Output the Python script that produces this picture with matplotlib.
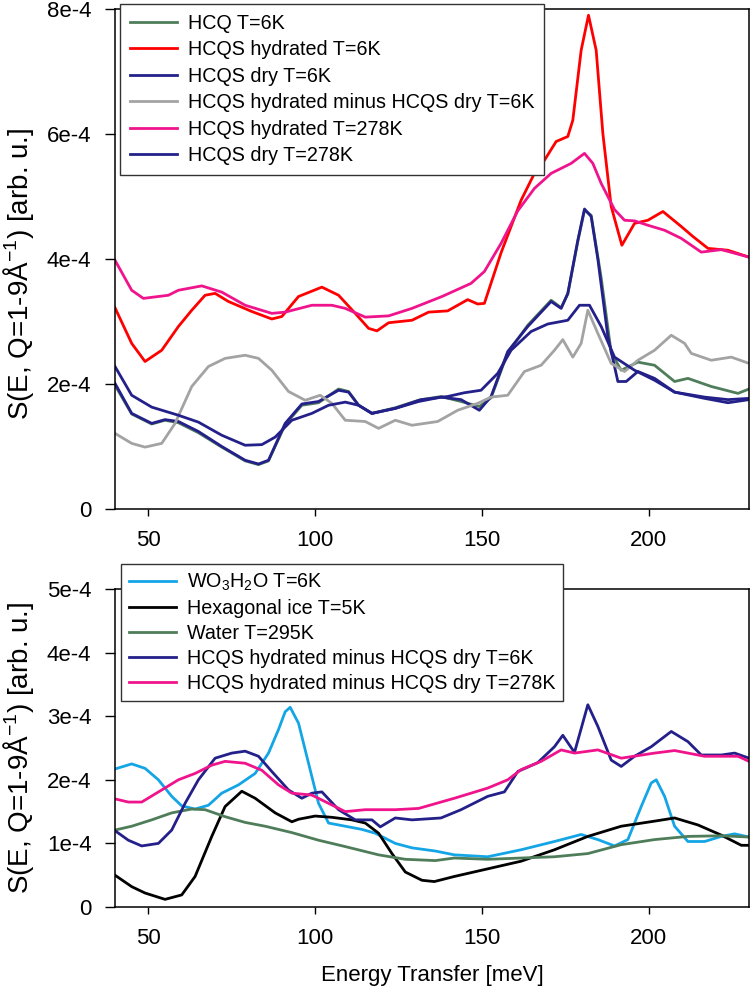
import matplotlib
matplotlib.use("Agg")
import matplotlib.pyplot as plt
import numpy as np

plt.rcParams['font.family'] = ['Liberation Sans', 'DejaVu Sans']
plt.rcParams['mathtext.fontset'] = 'custom'
plt.rcParams['mathtext.rm'] = 'Liberation Sans'
plt.rcParams['mathtext.it'] = 'Liberation Sans:italic'

# values are in units of 1e-4 arb. u.
SCALE = 1e-4

# ---------------- top panel ----------------
hcq_e = [40, 45, 51, 55, 59, 65, 72, 79, 83, 86, 91, 96, 101, 107, 110, 113, 117, 124, 131, 137.7,
         143.7, 149.2, 152.7, 157.7, 163.7, 170.7, 173.7, 175.7, 178.7, 180.7, 182.7, 185.7, 188.7,
         191.7, 196.7, 201.7, 207.7, 211.7, 218.7, 226.7, 230]
hcq_s = [1.98, 1.52, 1.36, 1.42, 1.38, 1.22, 0.99, 0.77, 0.71, 0.77, 1.35, 1.66, 1.70, 1.92, 1.88, 1.66,
         1.53, 1.62, 1.74, 1.80, 1.72, 1.64, 1.78, 2.50, 2.94, 3.34, 3.22, 3.44, 4.28, 4.78, 4.70, 3.70,
         2.50, 2.22, 2.35, 2.30, 2.04, 2.09, 1.96, 1.85, 1.92]

hyd6_e = [40, 45, 49, 54, 59, 63, 67, 70, 74, 81, 87, 90, 95, 102, 107, 112, 116, 118.5, 122, 129,
          134, 139.7, 145.7, 148.7, 150.7, 155.7, 161.7, 165.7, 168.7, 172.2, 175.7, 177.2, 179.7,
          181.9, 184.2, 186.2, 188.7, 191.9, 195.7, 199.7, 204.2, 209.7, 213.2, 217.7, 223.7, 230]
hyd6_s = [3.22, 2.65, 2.36, 2.54, 2.92, 3.18, 3.42, 3.45, 3.32, 3.16, 3.04, 3.08, 3.40, 3.55, 3.42,
          3.13, 2.89, 2.85, 2.98, 3.02, 3.15, 3.17, 3.35, 3.28, 3.29, 4.10, 4.94, 5.37, 5.58, 5.88,
          5.96, 6.22, 7.34, 7.90, 7.34, 6.01, 4.84, 4.22, 4.57, 4.62, 4.76, 4.52, 4.36, 4.17, 4.14, 4.03]

dry6_e = [40, 45, 51, 55, 59, 65, 72, 79, 83, 86, 91, 96, 101, 107, 110, 113, 117, 124, 131, 137.7,
          143.7, 149.2, 152.7, 157.7, 163.7, 170.7, 173.7, 175.7, 178.7, 180.7, 182.7, 184.7, 187.7,
          190.7, 193.2, 196.7, 201.7, 207.7, 216.7, 223.7, 230]
dry6_s = [2.01, 1.53, 1.37, 1.43, 1.40, 1.24, 1.00, 0.78, 0.72, 0.78, 1.37, 1.68, 1.72, 1.90, 1.87,
          1.66, 1.53, 1.61, 1.72, 1.79, 1.75, 1.58, 1.80, 2.52, 2.92, 3.32, 3.21, 3.45, 4.30, 4.80,
          4.68, 4.00, 2.76, 2.04, 2.04, 2.20, 2.09, 1.87, 1.77, 1.70, 1.75]

diff6_e = [40, 45, 49, 54, 58, 63, 68, 73, 79, 83, 87, 92, 97, 101.5, 105, 109, 115, 119, 124, 129,
           136.7, 142.7, 148.7, 152.7, 157.7, 162.7, 167.7, 171.7, 174.2, 177.2, 179.7, 181.7, 184.7,
           188.7, 192.7, 196.7, 201.7, 206.7, 210.7, 212.7, 218.7, 224.7, 230]
diff6_s = [1.21, 1.05, 0.99, 1.05, 1.37, 1.96, 2.28, 2.41, 2.46, 2.41, 2.22, 1.88, 1.74, 1.82, 1.69,
           1.42, 1.40, 1.29, 1.42, 1.34, 1.40, 1.58, 1.69, 1.79, 1.82, 2.20, 2.30, 2.54, 2.71, 2.43,
           2.65, 3.18, 2.81, 2.33, 2.20, 2.38, 2.54, 2.78, 2.65, 2.49, 2.38, 2.43, 2.33]

hyd278_e = [40, 45, 48.5, 56, 59, 66, 72, 79, 87, 91, 99, 105, 109, 115, 122, 129, 138, 146.7, 150.7,
            155.7, 160.7, 165.7, 170.7, 176.7, 180.7, 183.2, 185.7, 189.7, 192.7, 195.7, 199.7, 204.7,
            209.7, 215.7, 221.7, 230]
hyd278_s = [3.98, 3.50, 3.37, 3.42, 3.50, 3.57, 3.47, 3.26, 3.13, 3.15, 3.26, 3.26, 3.21, 3.07, 3.09,
            3.21, 3.40, 3.61, 3.80, 4.25, 4.77, 5.13, 5.37, 5.53, 5.69, 5.53, 5.21, 4.79, 4.62, 4.61,
            4.54, 4.46, 4.33, 4.11, 4.15, 4.03]

dry278_e = [40, 45, 51, 59, 65, 72, 79, 84, 88, 93, 99, 104, 109, 113, 117, 124, 131.7, 139.7, 144.7,
            149.7, 154.7, 158.7, 164.7, 169.7, 175.7, 179.2, 182.2, 185.7, 189.7, 195.7, 201.7, 207.7,
            216.7, 223.7, 230]
dry278_s = [2.28, 1.82, 1.63, 1.50, 1.39, 1.18, 1.02, 1.03, 1.15, 1.42, 1.53, 1.66, 1.71, 1.66, 1.53,
            1.61, 1.75, 1.80, 1.86, 1.90, 2.17, 2.54, 2.84, 2.96, 3.02, 3.26, 3.26, 2.92, 2.43, 2.22,
            2.06, 1.87, 1.79, 1.75, 1.77]

# ---------------- bottom panel ----------------
wo3_e = [40, 45, 49, 53, 57, 60, 64, 68, 72, 77, 82, 86, 89, 91, 92.5, 95, 98, 101, 104, 109, 114,
         118, 124, 129, 136, 141.7, 151.7, 161.7, 171.7, 179.7, 184.7, 189.7, 193.7, 197.7, 200.7,
         202.2, 204.7, 207.7, 211.7, 216.7, 221.7, 225.7, 230]
wo3_s = [2.17, 2.25, 2.18, 2.00, 1.74, 1.59, 1.54, 1.60, 1.79, 1.92, 2.10, 2.42, 2.79, 3.07, 3.14,
         2.89, 2.26, 1.63, 1.32, 1.27, 1.22, 1.16, 1.00, 0.93, 0.88, 0.82, 0.79, 0.90, 1.03, 1.14,
         1.06, 0.96, 1.06, 1.58, 1.95, 2.00, 1.74, 1.27, 1.03, 1.03, 1.11, 1.15, 1.10]

ice_e = [40, 45, 49, 55, 60, 64, 69, 73, 78, 82, 88, 93, 95, 100, 105, 111, 115, 119, 123, 127, 132,
         135.7, 141.7, 151.7, 161.7, 171.7, 181.7, 191.7, 201.7, 207.7, 214.7, 221.7, 227.7, 230]
ice_s = [0.50, 0.32, 0.22, 0.12, 0.19, 0.48, 1.11, 1.58, 1.82, 1.71, 1.48, 1.34, 1.38, 1.43, 1.41,
         1.37, 1.32, 1.16, 0.84, 0.55, 0.42, 0.40, 0.48, 0.60, 0.72, 0.90, 1.11, 1.27, 1.35, 1.40,
         1.29, 1.13, 0.97, 0.97]

water_e = [40, 45, 51, 57, 63, 67, 73, 79, 85, 93, 101, 109, 119, 127, 136, 141.7, 151.7, 161.7,
           171.7, 181.7, 191.7, 201.7, 211.7, 221.7, 230]
water_s = [1.21, 1.27, 1.37, 1.48, 1.54, 1.53, 1.42, 1.33, 1.27, 1.17, 1.05, 0.95, 0.82, 0.75, 0.73,
           0.77, 0.75, 0.77, 0.79, 0.84, 0.98, 1.06, 1.11, 1.12, 1.10]

minus6_e = [40, 44, 48, 53, 57, 61, 65, 70, 75, 79, 83, 87, 92, 96, 99, 102, 107, 112, 117, 119.5,
            124, 129, 137.7, 143.7, 151.7, 156.7, 160.7, 166.7, 171.7, 174.2, 177.7, 181.7, 184.7,
            188.7, 191.7, 195.7, 200.7, 206.7, 211.7, 215.7, 221.7, 225.7, 230]
minus6_s = [1.20, 1.05, 0.96, 1.00, 1.21, 1.63, 2.00, 2.34, 2.42, 2.45, 2.37, 2.13, 1.84, 1.71, 1.79,
            1.81, 1.53, 1.37, 1.37, 1.26, 1.40, 1.37, 1.40, 1.53, 1.74, 1.81, 2.13, 2.27, 2.52, 2.70,
            2.43, 3.18, 2.84, 2.31, 2.21, 2.37, 2.52, 2.76, 2.60, 2.39, 2.39, 2.42, 2.34]

minus278_e = [40, 44, 48, 54, 59, 64, 69, 73, 79, 84, 89, 93, 99, 104, 109, 115, 124, 131, 141.7,
              151.7, 157.7, 161.7, 167.7, 173.7, 177.7, 184.7, 191.7, 201.7, 207.7, 216.7, 226.7, 230]
minus278_s = [1.70, 1.65, 1.65, 1.84, 2.00, 2.10, 2.23, 2.29, 2.26, 2.15, 1.92, 1.79, 1.76, 1.63,
              1.50, 1.53, 1.53, 1.55, 1.71, 1.87, 2.00, 2.16, 2.29, 2.47, 2.42, 2.47, 2.34, 2.42,
              2.46, 2.37, 2.37, 2.29]

top_ticks = [0, 2e-4, 4e-4, 6e-4, 8e-4]
top_ticklabels = ['0', '2e-4', '4e-4', '6e-4', '8e-4']
bot_ticks = [0, 1e-4, 2e-4, 3e-4, 4e-4, 5e-4]
bot_ticklabels = ['0', '1e-4', '2e-4', '3e-4', '4e-4', '5e-4']
x_ticks = [50, 100, 150, 200]

c_green = '#4f7d5a'
c_red = '#ff0000'
c_navy = '#24208a'
c_gray = '#a3a3a3'
c_pink = '#f0148c'
c_cyan = '#14a5e6'
Linewidth = 2.0

ylabel = 'S(E, Q=1-9Å$^{-1}$) [arb. u.]'

fig = plt.figure(figsize=(7.5, 9.93), dpi=100)
ax1 = fig.add_axes([115/750, 1-509/993, 634/750, 500/993])
ax2 = fig.add_axes([115/750, 1-907/993, 634/750, 318/993])


def sc(v):
    return np.array(v) * SCALE


ax1.plot(hcq_e, sc(hcq_s), color=c_green, lw=Linewidth, label='HCQ T=6K')
ax1.plot(hyd6_e, sc(hyd6_s), color=c_red, lw=Linewidth, label='HCQS hydrated T=6K')
ax1.plot(dry6_e, sc(dry6_s), color=c_navy, lw=Linewidth, label='HCQS dry T=6K')
ax1.plot(diff6_e, sc(diff6_s), color=c_gray, lw=Linewidth, label='HCQS hydrated minus HCQS dry T=6K')
ax1.plot(hyd278_e, sc(hyd278_s), color=c_pink, lw=Linewidth, label='HCQS hydrated T=278K')
ax1.plot(dry278_e, sc(dry278_s), color=c_navy, lw=Linewidth, label='HCQS dry T=278K')

ax2.plot(wo3_e, sc(wo3_s), color=c_cyan, lw=Linewidth, label=r'WO$_3$H$_2$O T=6K')
ax2.plot(ice_e, sc(ice_s), color='black', lw=Linewidth, label='Hexagonal ice T=5K')
ax2.plot(water_e, sc(water_s), color=c_green, lw=Linewidth, label='Water T=295K')
ax2.plot(minus6_e, sc(minus6_s), color=c_navy, lw=Linewidth, label='HCQS hydrated minus HCQS dry T=6K')
ax2.plot(minus278_e, sc(minus278_s), color=c_pink, lw=Linewidth, label='HCQS hydrated minus HCQS dry T=278K')

for ax, ticks, labels, ly in [(ax1, top_ticks, top_ticklabels, 0.47), (ax2, bot_ticks, bot_ticklabels, 0.5)]:
    ax.set_xlim(40, 230)
    ax.set_ylim(ticks[0], ticks[-1])
    ax.set_xticks(x_ticks)
    ax.set_yticks(ticks)
    ax.set_yticklabels(labels)
    ax.tick_params(axis='y', direction='out', length=7, width=1.0, labelsize=16, pad=10)
    ax.tick_params(axis='x', direction='out', length=5, width=1.0, labelsize=16, pad=10)
    for s in ax.spines.values():
        s.set_linewidth(1.1)
        s.set_color('black')
    ax.set_ylabel(ylabel, fontsize=20)
    ax.yaxis.set_label_coords(-0.125, ly)

ax2.set_xlabel('Energy Transfer [meV]', fontsize=16, labelpad=12)

leg1 = ax1.legend(loc='upper left', bbox_to_anchor=(120/750, 1-4/993), bbox_transform=fig.transFigure,
                  fontsize=14.2, frameon=True, fancybox=False, edgecolor='#333333', framealpha=1,
                  borderaxespad=0, handlelength=2.4, handletextpad=0.55, labelspacing=0.38,
                  borderpad=0.5)
leg1.get_frame().set_linewidth(1.0)
leg2 = ax2.legend(loc='upper left', bbox_to_anchor=(121/750, 1-564/993), bbox_transform=fig.transFigure,
                  fontsize=14.2, frameon=True, fancybox=False, edgecolor='#333333', framealpha=1,
                  borderaxespad=0, handlelength=2.4, handletextpad=0.55, labelspacing=0.3,
                  borderpad=0.4)
leg2.get_frame().set_linewidth(1.0)

fig.savefig('out.png', dpi=100)
